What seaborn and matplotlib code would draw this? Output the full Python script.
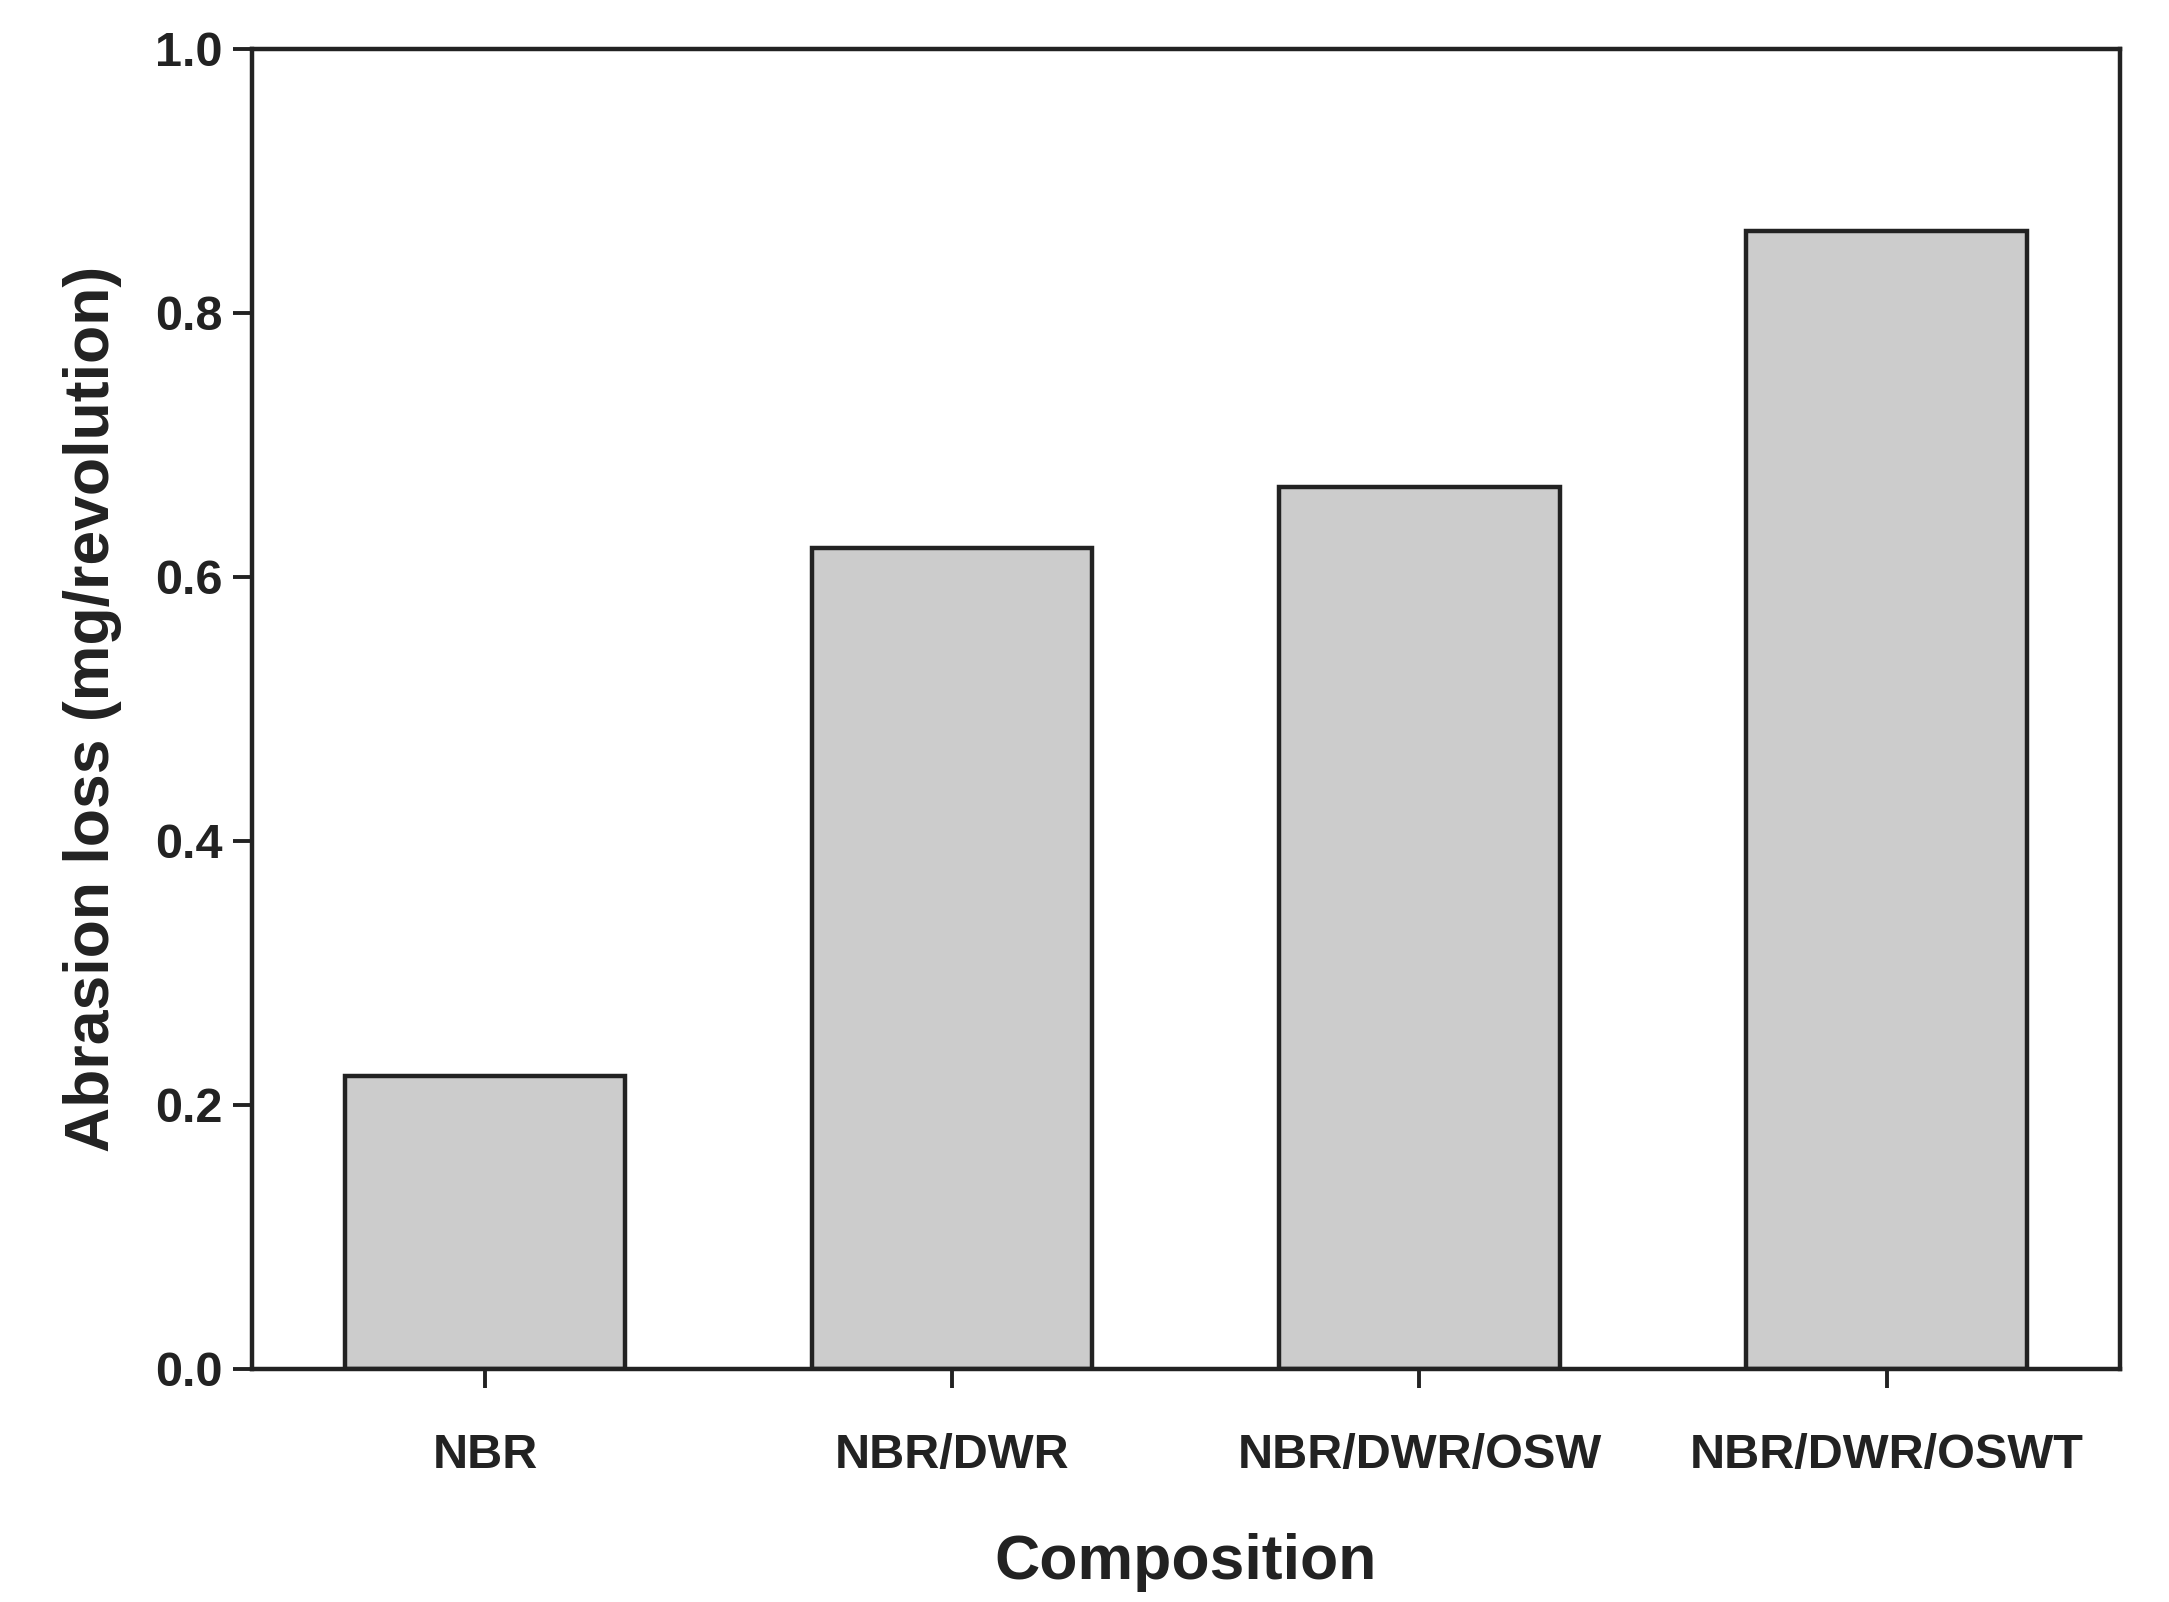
import matplotlib
matplotlib.use("Agg")
import matplotlib.pyplot as plt
import seaborn as sns
import pandas as pd

compositions = ["NBR", "NBR/DWR", "NBR/DWR/OSW", "NBR/DWR/OSWT"]
abrasion_loss = [0.222, 0.622, 0.668, 0.862]

sns.set_style("white")
plt.rcParams["font.family"] = ["Liberation Sans", "DejaVu Sans"]
plt.rcParams["font.weight"] = "bold"

df = pd.DataFrame({"Composition": compositions, "Loss": abrasion_loss})

fig = plt.figure(figsize=(10.845, 8.01), dpi=200)
ax = fig.add_axes([0.116, 0.145, 0.870, 0.825])
ax.set_position([0.116, 0.1455, 0.8615, 0.824])

sns.barplot(data=df, x="Composition", y="Loss", color="#cccccc", width=0.6,
            edgecolor="#222222", linewidth=1.6, saturation=1, ax=ax)

ax.set_xlim(-0.5, 3.5)
ax.set_ylim(0, 1.0)
ax.set_yticks([0.0, 0.2, 0.4, 0.6, 0.8, 1.0])
ax.set_yticklabels([f"{v:.1f}" for v in ax.get_yticks()])
ax.tick_params(axis="both", direction="out", length=7, width=1.4,
               labelsize=17.5, colors="#222222", bottom=True, left=True)
ax.tick_params(axis="x", pad=16)
for lbl in ax.get_xticklabels() + ax.get_yticklabels():
    lbl.set_fontweight("bold")
for sp in ax.spines.values():
    sp.set_color("#222222")
    sp.set_linewidth(1.6)

ax.set_xlabel("Composition", fontsize=22.5, fontweight="bold", labelpad=20, color="#222222")
ax.set_ylabel("Abrasion loss (mg/revolution)", fontsize=22.5, fontweight="bold", labelpad=12, color="#222222")

fig.savefig("out.png", dpi=200)
